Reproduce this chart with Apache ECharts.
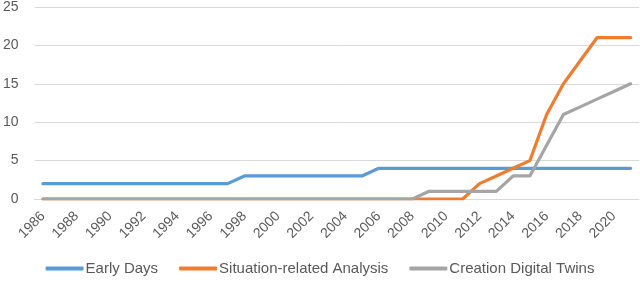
<!DOCTYPE html>
<html>
<head>
<meta charset="utf-8">
<script src="https://cdn.jsdelivr.net/npm/echarts@6/dist/echarts.min.js"></script>
<style>html,body{margin:0;padding:0;background:#fff}#c{width:640px;height:286px}</style>
</head>
<body>
<div id="c"></div>
<script>
var years = [];
for (var y = 1986; y <= 2021; y++) years.push(String(y));
var seriesNames = ['Early Days', 'Situation-related Analysis', 'Creation Digital Twins'];
var earlyDays = [2,2,2,2,2,2,2,2,2,2,2,2, 3,3,3,3,3,3,3,3, 4,4,4,4,4,4,4,4,4,4,4,4,4,4,4,4];
var situationAnalysis = [0,0,0,0,0,0,0,0,0,0,0,0,0,0,0,0,0,0,0,0,0,0, 0,0,0,0, 2,3,4,5,11,15,18,21,21,21];
var creationTwins = [0,0,0,0,0,0,0,0,0,0,0,0,0,0,0,0,0,0,0,0,0,0,0, 1,1,1,1,1, 3,3,7,11,12,13,14,15];
var yTicks = [0, 5, 10, 15, 20, 25];

var colors = ['#5B9BD5', '#ED7D31', '#A5A5A5'];
var font = 'Liberation Sans, Arial, sans-serif';
var chart = echarts.init(document.getElementById('c'));
function mk(name, data, i) {
  return { name: name, type: 'line', data: data, symbol: 'none', smooth: false,
    lineStyle: { width: 3.2, color: colors[i], cap: 'round', join: 'round' },
    itemStyle: { color: colors[i] }, animation: false };
}
chart.setOption({
  animation: false,
  color: colors,
  grid: { left: 33, right: 1, top: 5, bottom: 87, containLabel: false },
  xAxis: {
    type: 'category', data: years, boundaryGap: true,
    axisLine: { lineStyle: { color: '#d9d9d9', width: 1 } },
    axisTick: { show: false },
    axisLabel: { interval: 1, rotate: 45, color: '#595959', fontSize: 14, fontFamily: font, margin: 15 }
  },
  yAxis: {
    type: 'value', min: yTicks[0], max: yTicks[yTicks.length - 1], interval: 5,
    axisLine: { show: false }, axisTick: { show: false },
    axisLabel: { color: '#595959', fontSize: 14, fontFamily: font, margin: 16 },
    splitLine: { lineStyle: { color: '#d9d9d9', width: 1 } }
  },
  legend: {
    bottom: 5, left: 'center', itemWidth: 38, itemHeight: 4, itemGap: 21,
    icon: 'roundRect',
    textStyle: { color: '#595959', fontSize: 15, fontFamily: font, padding: [0, 0, 0, -3] },
    data: seriesNames
  },
  series: [mk(seriesNames[0], earlyDays, 0), mk(seriesNames[1], situationAnalysis, 1), mk(seriesNames[2], creationTwins, 2)]
});
</script>
</body>
</html>
